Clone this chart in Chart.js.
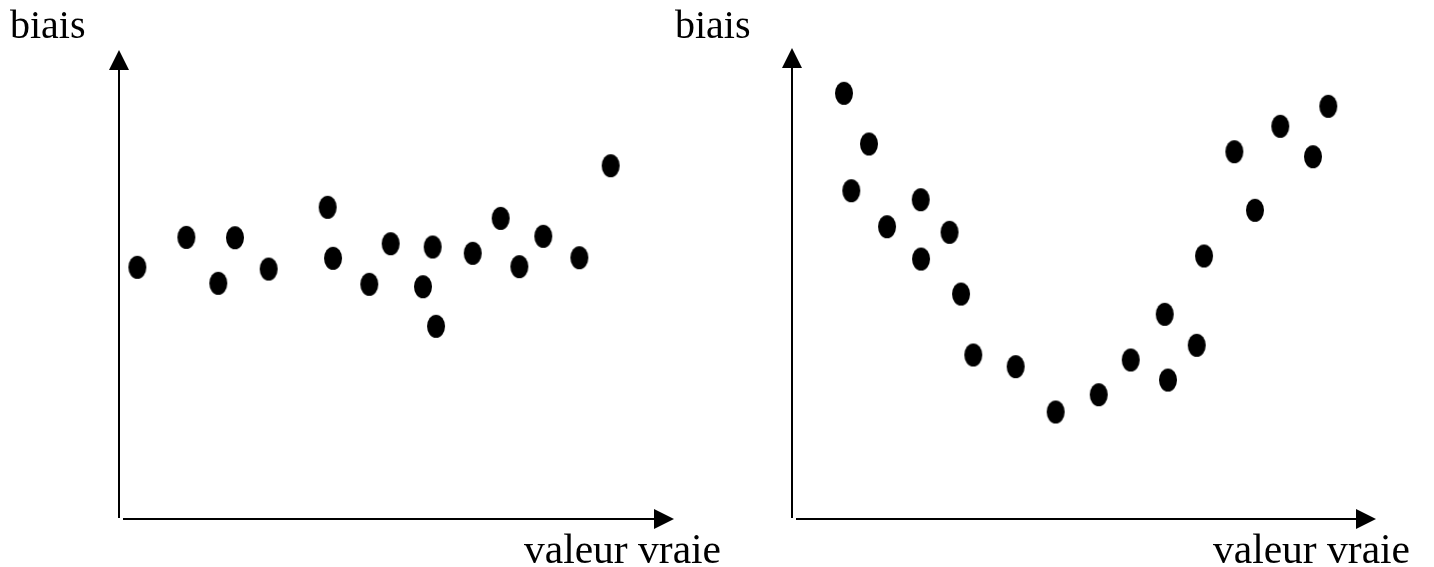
<!DOCTYPE html>
<html>
<head>
<meta charset="utf-8">
<script src="https://cdn.jsdelivr.net/npm/chart.js@4/dist/chart.umd.min.js"></script>
<style>
  html, body { margin: 0; padding: 0; background: #ffffff; }
  body { width: 1434px; height: 567px; position: relative; overflow: hidden; }
  canvas { position: absolute; top: 0; }
  #left { left: 0; }
  #right { left: 660px; }
</style>
</head>
<body>
<canvas id="left" width="740" height="567"></canvas>
<canvas id="right" width="774" height="567"></canvas>
<script>
// Axis labels
const yLabel = 'biais';
const xLabel = 'valeur vraie';

// Left panel: bias roughly constant over the true value
const leftX = [3.30, 12.13, 17.89, 20.90, 26.97, 37.60, 38.56, 45.10, 48.95, 54.77, 56.52, 57.12, 63.73, 68.77, 72.13, 76.45, 82.94, 88.59];
const leftY = [53.67, 60.06, 50.26, 59.98, 53.30, 66.46, 55.59, 50.04, 58.70, 49.53, 58.00, 41.09, 56.65, 64.11, 53.80, 60.28, 55.71, 75.33];

// Right panel: bias depends on the true value (U shape)
const rightX = [8.90, 13.18, 10.15, 16.27, 22.04, 22.09, 26.97, 28.94, 31.04, 38.30, 45.15, 52.52, 58.00, 63.82, 64.38, 69.30, 70.55, 75.74, 79.28, 83.61, 89.21, 91.83];
const rightY = [90.38, 79.62, 69.70, 62.06, 67.79, 55.20, 60.87, 47.77, 34.82, 32.34, 22.72, 26.39, 33.76, 43.46, 29.51, 36.88, 55.84, 77.98, 65.54, 83.38, 76.92, 87.62];

const Y_FONT = '40px "Liberation Serif", "Times New Roman", serif';
const X_FONT = '41.5px "Liberation Serif", "Times New Roman", serif';

// Solid black elliptical marker
function makeDot() {
  const c = document.createElement('canvas');
  c.width = 20; c.height = 25;
  const g = c.getContext('2d');
  g.fillStyle = '#000';
  g.beginPath();
  g.ellipse(10, 12.5, 9, 11.5, 0, 0, Math.PI * 2);
  g.fill();
  return c;
}
const dot = makeDot();

// Draws arrow axes and the two axis captions
const arrowAxes = {
  id: 'arrowAxes',
  afterDraw(chart, args, opts) {
    const { ctx, chartArea: a } = chart;
    const head = 20, half = 10;
    ctx.save();
    ctx.strokeStyle = '#000';
    ctx.fillStyle = '#000';
    ctx.lineWidth = 2;
    // vertical axis
    ctx.beginPath();
    ctx.moveTo(a.left, a.bottom - 1);
    ctx.lineTo(a.left, a.top + head);
    ctx.stroke();
    ctx.beginPath();
    ctx.moveTo(a.left, a.top);
    ctx.lineTo(a.left - half, a.top + head);
    ctx.lineTo(a.left + half, a.top + head);
    ctx.closePath();
    ctx.fill();
    // horizontal axis
    ctx.beginPath();
    ctx.moveTo(a.left + 4, a.bottom);
    ctx.lineTo(a.right - head, a.bottom);
    ctx.stroke();
    ctx.beginPath();
    ctx.moveTo(a.right, a.bottom);
    ctx.lineTo(a.right - head, a.bottom - half);
    ctx.lineTo(a.right - head, a.bottom + half);
    ctx.closePath();
    ctx.fill();
    // captions
    ctx.textAlign = 'left';
    ctx.textBaseline = 'alphabetic';
    ctx.font = Y_FONT;
    ctx.fillText(yLabel, opts.yLabelX, opts.yLabelY);
    ctx.font = X_FONT;
    ctx.fillText(xLabel, opts.xLabelX, opts.xLabelY);
    ctx.restore();
  }
};

function makeChart(id, xs, ys, padding, labels) {
  const points = xs.map((x, i) => ({ x: x, y: ys[i] }));
  return new Chart(document.getElementById(id), {
    type: 'scatter',
    data: {
      datasets: [{
        data: points,
        pointStyle: dot,
        pointRadius: 10,
        backgroundColor: '#000',
        borderColor: '#000'
      }]
    },
    options: {
      responsive: false,
      animation: false,
      events: [],
      layout: { padding: padding },
      scales: {
        x: { type: 'linear', min: 0, max: 100, display: false },
        y: { type: 'linear', min: 0, max: 100, display: false }
      },
      plugins: {
        legend: { display: false },
        tooltip: { enabled: false },
        arrowAxes: labels
      }
    },
    plugins: [arrowAxes]
  });
}

makeChart('left', leftX, leftY,
  { left: 119, right: 66, top: 50, bottom: 48 },
  { yLabelX: 10, yLabelY: 38, xLabelX: 524, xLabelY: 563 });

makeChart('right', rightX, rightY,
  { left: 132, right: 58, top: 48, bottom: 48 },
  { yLabelX: 15, yLabelY: 38, xLabelX: 553, xLabelY: 563 });
</script>
</body>
</html>
